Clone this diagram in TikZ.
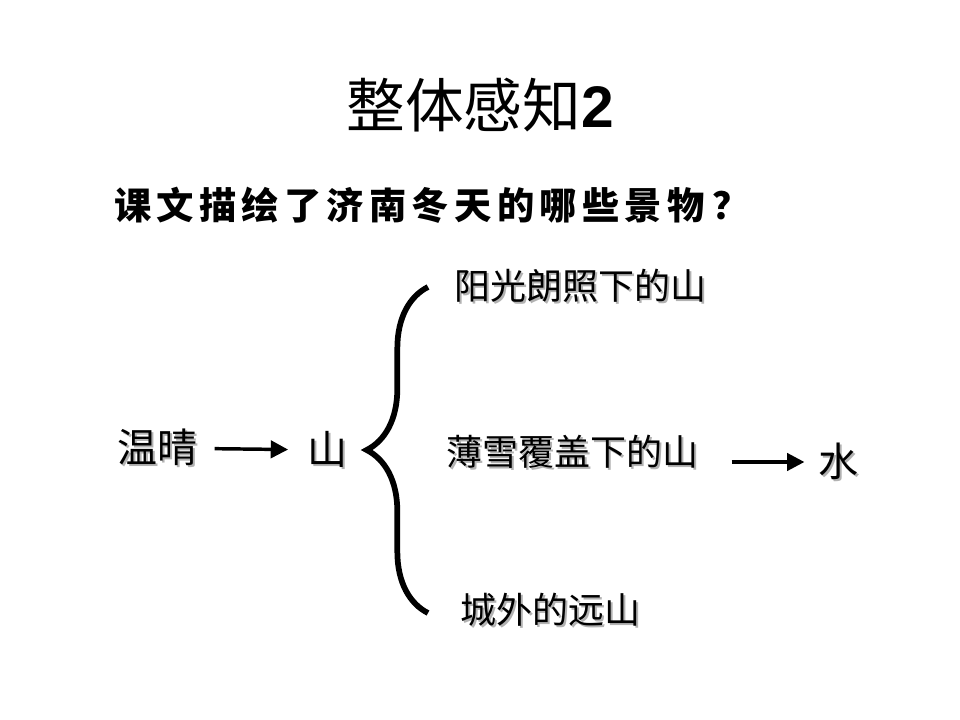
\documentclass[tikz,border=0pt]{standalone}
\usepackage{fontspec}
\usetikzlibrary{arrows.meta,decorations.pathreplacing}
\setmainfont{Liberation Sans}
\newfontfamily\cjk{Noto Sans CJK SC}
\newfontfamily\cjkwide{Noto Sans CJK SC}[LetterSpace=14]
\newcommand{\shadowed}[1]{\rlap{\hspace{1.5pt}\raisebox{-1.5pt}{\textcolor{black!30}{#1}}}#1}

\begin{document}
\begin{tikzpicture}[x=0.75pt,y=-0.75pt,
        item/.style={inner sep=0pt, font=\cjk\fontsize{27}{30}\selectfont},
        big/.style={inner sep=0pt, font=\cjk\fontsize{30}{34}\selectfont},
        arrow/.style={-{Triangle[length=13pt,width=13pt]}, line width=2.6pt}
    ]
        \useasboundingbox (0,0) rectangle (960,720);
        % heading
        \node[inner sep=0pt, font=\cjk\fontsize{44}{50}\selectfont] (title) at (480,105) {整体感知{\rmfamily\bfseries 2}};
        \node[inner sep=0pt, font=\cjkwide\bfseries\fontsize{28}{32}\selectfont] (question) at (432,205) {课文描绘了济南冬天的哪些景物\hspace{6pt}？};

        % left part
        \node[big] (warm) at (157,448) {\shadowed{温晴}};
        \node[big] (mount) at (327,450) {\shadowed{山}};
        \draw[arrow, shorten <=13pt, shorten >=14pt] (warm) -- (mount);

        % the three scenes
        \node[item] (sun) at (580,287) {\shadowed{阳光朗照下的山}};
        \node[item] (snow) at (572,453) {\shadowed{薄雪覆盖下的山}};
        \node[item] (far) at (550,611) {\shadowed{城外的远山}};
        \coordinate (bracetop) at (428,287);
        \coordinate (bracebot) at (428,613);
        \draw[line width=4.3pt, decorate, decoration={brace, amplitude=46pt}] (bracebot) -- (bracetop);

        % water
        \node[big] (water) at (838,462) {\shadowed{水}};
        \draw[arrow, shorten <=25pt, shorten >=10pt] (snow.east |- water) -- (water.west);
    \end{tikzpicture}
\end{document}
